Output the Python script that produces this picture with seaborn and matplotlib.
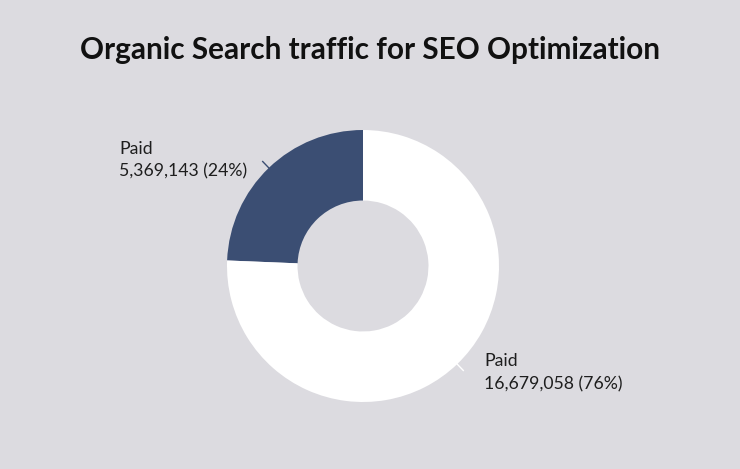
import matplotlib
matplotlib.use("Agg")
import matplotlib.pyplot as plt
import seaborn as sns
import numpy as np

# data
names = ["Paid", "Paid"]
visits = [5369143, 16679058]
shares = [24, 76]
colors = ["#3b4e73", "#ffffff"]

bg = "#dcdbe0"
sns.set_style("white", {"axes.facecolor": bg, "figure.facecolor": bg})
plt.rcParams["font.family"] = ["Lato", "DejaVu Sans"]

fig = plt.figure(figsize=(7.4, 4.69), dpi=100)
W, H = 740, 469
cx, cy, R = 363, 266, 135
half = 170
ax = fig.add_axes([(cx - half) / W, (H - cy - half) / H, 2 * half / W, 2 * half / H])
ax.set_xlim(-half / R, half / R)
ax.set_ylim(-half / R, half / R)
ax.set_aspect("equal")
ax.axis("off")

wedges, _ = ax.pie(visits, colors=colors, startangle=90, counterclock=True,
                   radius=1, wedgeprops=dict(width=70 / R, linewidth=0))

for i, w in enumerate(wedges):
    ang = np.deg2rad((w.theta1 + w.theta2) / 2)
    c, s = np.cos(ang), np.sin(ang)
    ax.plot([0.99 * c, 1.07 * c], [0.99 * s, 1.07 * s],
            color=colors[i], lw=1, solid_capstyle="butt")
    txt = f"{names[i]}\n{visits[i]:,} ({shares[i]}%)"
    ex, ey = 1.07 * c, 1.07 * s
    if c < 0:
        ax.text(ex - 0.11, ey + 0.15, txt, ha="right", va="top", multialignment="left",
                fontsize=12.7, color="#1e1e1e", linespacing=1.5)
    else:
        ax.text(ex + 0.15, ey + 0.13, txt, ha="left", va="top", multialignment="left",
                fontsize=12.7, color="#1e1e1e", linespacing=1.5)

fig.text(0.5, 1 - 50 / H, "Organic Search traffic for SEO Optimization",
         ha="center", va="center", fontsize=21.4, fontweight="bold", color="#111111")

fig.savefig("out.png", dpi=100, facecolor=bg)
